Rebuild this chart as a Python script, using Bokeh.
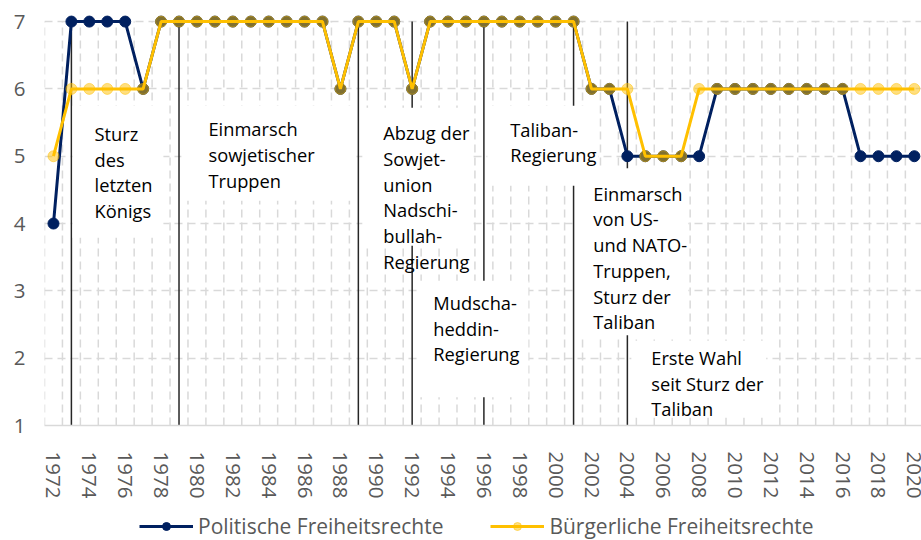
from bokeh.plotting import figure
from bokeh.layouts import column
from bokeh.models import Range1d, FixedTicker, Legend, LegendItem
from bokeh.embed import file_html
from bokeh.resources import INLINE
from bokeh.core.properties import value

# ---------------- data ----------------
years = list(range(1972, 2021))
politische = [4, 7, 7, 7, 7, 6,
              7, 7, 7, 7, 7, 7, 7, 7, 7, 7,
              6, 7, 7, 7, 6,
              7, 7, 7, 7, 7, 7, 7, 7, 7,
              6, 6, 5, 5, 5, 5, 5,
              6, 6, 6, 6, 6, 6, 6, 6,
              5, 5, 5, 5]
buergerliche = [5, 6, 6, 6, 6, 6,
                7, 7, 7, 7, 7, 7, 7, 7, 7, 7,
                6, 7, 7, 7, 6,
                7, 7, 7, 7, 7, 7, 7, 7, 7,
                6, 6, 6, 5, 5, 5,
                6, 6, 6, 6, 6, 6, 6, 6, 6, 6, 6, 6, 6]
x_tick_years = years[::2]
y_ticks = [1, 2, 3, 4, 5, 6, 7]
series_names = ["Politische Freiheitsrechte", "Bürgerliche Freiheitsrechte"]

event_years = [1973, 1979, 1989, 1992, 1996, 2001, 2004]
event_texts = [
    ["Sturz", "des", "letzten", "Königs"],
    ["Einmarsch", "sowjetischer", "Truppen"],
    ["Abzug der", "Sowjet-", "union", "Nadschi-", "bullah-", "Regierung"],
    ["Taliban-", "Regierung"],
    ["Mudscha-", "heddin-", "Regierung"],
    ["Einmarsch", "von US-", "und NATO-", "Truppen,", "Sturz der", "Taliban"],
    ["Erste Wahl", "seit Sturz der", "Taliban"],
]

# ---------------- layout of annotation boxes (data coords) ----------------
# (left, right, top, bottom) of white text boxes and anchor of first text line
box_geom = [
    (1973.06, 1978.13, 5.75, 3.79),
    (1979.13, 1988.67, 5.75, 4.34),
    (1989.22, 1995.41, 5.72, 3.67),
    (1996.19, 2002.38, 5.75, 4.56),
    (1992.35, 1998.48, 3.15, 1.42),
    (2001.15, 2007.40, 4.82, 2.34),
    (2004.22, 2011.74, 2.26, 1.12),
]
text_anchor = [
    (1974.29, 5.34),
    (1980.64, 5.41),
    (1990.39, 5.35),
    (1997.47, 5.40),
    (1993.18, 2.83),
    (2002.10, 4.45),
    (2005.33, 2.01),
]
LINE_PX = 25.7

NAVY = "#002060"
GOLD = "#FFC000"
GRID = "#D9D9D9"
LABEL = "#595959"
FONT = "Open Sans"

p = figure(width=921, height=516, output_backend="svg", toolbar_location=None,
           x_range=Range1d(1971.5, 2020.4), y_range=Range1d(1, 7.12),
           min_border_left=44, min_border_right=0, min_border_top=13,
           min_border_bottom=91)
p.outline_line_color = None
p.background_fill_color = "white"
p.border_fill_color = "white"

# grid
p.xgrid.visible = False
p.ygrid.ticker = FixedTicker(ticks=y_ticks[1:])
p.ygrid.grid_line_color = GRID
p.ygrid.grid_line_width = 1.5
p.ygrid.grid_line_dash = "8 5"

bounds = [y - 0.5 for y in years] + [years[-1] + 0.5]
p.segment(x0=bounds, x1=bounds, y0=[y_ticks[0]] * len(bounds), y1=[y_ticks[-1]] * len(bounds),
          line_color=GRID, line_width=1.5, line_dash="8 5")

# event lines
p.segment(x0=event_years, x1=event_years, y0=[y_ticks[0]] * len(event_years),
          y1=[y_ticks[-1]] * len(event_years), line_color="#262626", line_width=1.5)

# white boxes
p.quad(left=[b[0] for b in box_geom], right=[b[1] for b in box_geom],
       top=[b[2] for b in box_geom], bottom=[b[3] for b in box_geom],
       fill_color="white", line_color=None)

# texts
tx, ty, tt, toff = [], [], [], []
for (ax, ay), lines in zip(text_anchor, event_texts):
    for i, line in enumerate(lines):
        tx.append(ax); ty.append(ay); tt.append(line); toff.append(i * LINE_PX)
p.text(x=tx, y=ty, text=tt, y_offset=toff, text_font=value(FONT),
       text_font_size="18.3px", text_color="black", text_align="left",
       text_baseline="middle")

# series
bl = p.line(years, politische, line_color=NAVY, line_width=3)
bm = p.scatter(years, politische, size=11, fill_color=NAVY, line_color=NAVY)
yl = p.line(years, buergerliche, line_color=GOLD, line_width=3)
ym = p.scatter(years, buergerliche, size=11, fill_color=GOLD, line_color=GOLD,
               fill_alpha=0.5, line_alpha=0.5)

# axes
p.xaxis.ticker = FixedTicker(ticks=x_tick_years)
p.xaxis.major_label_orientation = "vertical"
p.xaxis.major_label_standoff = 20
p.xaxis.major_tick_line_color = None
p.xaxis.minor_tick_line_color = None
p.xaxis.axis_line_color = GRID
p.xaxis.axis_line_width = 1.5
p.xaxis.major_label_text_font = FONT
p.xaxis.major_label_text_font_size = "20.5px"
p.xaxis.major_label_text_color = LABEL

p.yaxis.ticker = FixedTicker(ticks=y_ticks)
p.yaxis.major_label_standoff = 13
p.yaxis.major_tick_line_color = None
p.yaxis.minor_tick_line_color = None
p.yaxis.axis_line_color = None
p.yaxis.major_label_text_font = FONT
p.yaxis.major_label_text_font_size = "20.5px"
p.yaxis.major_label_text_color = LABEL

# legend in a small figure below (its renderers hold data outside its ranges)
p2 = figure(width=921, height=24, output_backend="svg", toolbar_location=None,
            x_range=Range1d(0, 1), y_range=Range1d(0, 1),
            x_axis_type=None, y_axis_type=None,
            min_border_left=0, min_border_right=0, min_border_top=0,
            min_border_bottom=0)
p2.outline_line_color = None
lbl = p2.line(years, politische, line_color=NAVY, line_width=3)
lbm = p2.scatter(years, politische, size=11, fill_color=NAVY, line_color=NAVY)
lyl = p2.line(years, buergerliche, line_color=GOLD, line_width=3)
lym = p2.scatter(years, buergerliche, size=11, fill_color=GOLD, line_color=GOLD,
                 fill_alpha=0.5, line_alpha=0.5)
legend = Legend(items=[LegendItem(label=series_names[0], renderers=[lbl, lbm]),
                       LegendItem(label=series_names[1], renderers=[lyl, lym])],
                orientation="horizontal", location=(95, 0),
                glyph_width=54, glyph_height=20, label_height=20,
                label_standoff=5, spacing=47, padding=0, margin=0,
                label_text_font=FONT, label_text_font_size="21px",
                label_text_color=LABEL, border_line_color=None,
                background_fill_alpha=0)
p2.add_layout(legend, "center")

layout = column(p, p2, spacing=0)
open("out.html", "w").write(file_html(layout, INLINE))
